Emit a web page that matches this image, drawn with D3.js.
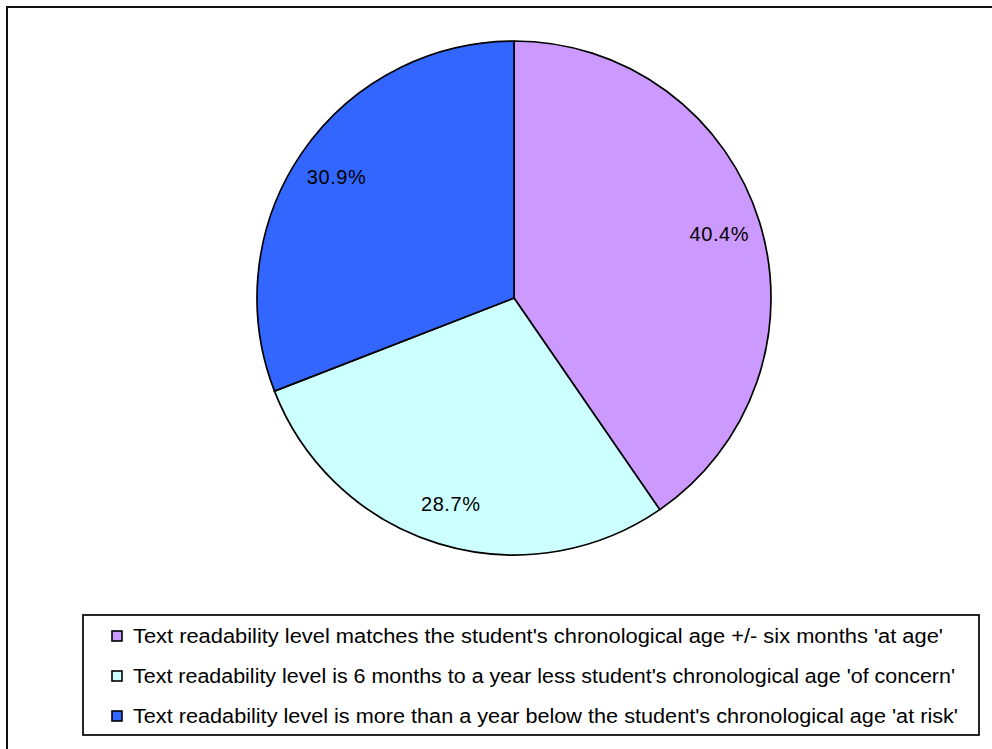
<!DOCTYPE html>
<html>
<head>
<meta charset="utf-8">
<script src="https://cdn.jsdelivr.net/npm/d3@7"></script>
<style>
  html, body { margin: 0; padding: 0; background: #fff; }
  svg { display: block; }
  text { font-family: Arial, "Liberation Sans", sans-serif; fill: #000; }
</style>
</head>
<body>
<svg id="chart" width="992" height="749"></svg>
<script>
// Share of texts by readability level relative to the student's age
const categories = [
  "Text readability level matches the student's chronological age +/- six months 'at age'",
  "Text readability level is 6 months to a year less student's chronological age 'of concern'",
  "Text readability level is more than a year below the student's chronological age 'at risk'"
];
const values = [40.4, 28.7, 30.9];
const colors = ["#CC99FF", "#CCFFFF", "#3366FF"];
const legendWidths = [810, 822, 825];

const svg = d3.select("#chart");
const W = 992, H = 749;

// chart area frame (only top and left edges fall inside the page)
svg.append("path")
  .attr("d", `M7,${H + 5} L7,7 L${W + 5},7`)
  .attr("fill", "none")
  .attr("stroke", "#111")
  .attr("stroke-width", 2);

const cx = 514, cy = 298, R = 257;

const pie = d3.pie().sort(null).value(d => d)
  .startAngle(0).endAngle(2 * Math.PI);
const arcs = pie(values);
const arc = d3.arc().innerRadius(0).outerRadius(R);
const labelArc = d3.arc().innerRadius(215).outerRadius(215);

const g = svg.append("g").attr("transform", `translate(${cx},${cy})`);

g.selectAll("path.slice")
  .data(arcs)
  .join("path")
  .attr("class", "slice")
  .attr("d", arc)
  .attr("fill", (d, i) => colors[i])
  .attr("stroke", "#000")
  .attr("stroke-width", 1.7)
  .attr("stroke-linejoin", "round");

g.selectAll("text.pct")
  .data(arcs)
  .join("text")
  .attr("class", "pct")
  .attr("transform", d => `translate(${labelArc.centroid(d)})`)
  .attr("text-anchor", "middle")
  .attr("dy", "0.36em")
  .attr("font-size", 20)
  .attr("letter-spacing", 0.6)
  .text(d => d.data.toFixed(1) + "%");

// legend
const lg = svg.append("g");
lg.append("rect")
  .attr("x", 83).attr("y", 615)
  .attr("width", 896).attr("height", 120)
  .attr("fill", "#fff")
  .attr("stroke", "#000")
  .attr("stroke-width", 1.7);

const rows = lg.selectAll("g.row")
  .data(categories)
  .join("g")
  .attr("class", "row")
  .attr("transform", (d, i) => `translate(0,${643 + i * 40})`);

rows.append("rect")
  .attr("x", 112).attr("y", -12)
  .attr("width", 10).attr("height", 10)
  .attr("fill", (d, i) => colors[i])
  .attr("stroke", "#000")
  .attr("stroke-width", 1.6);

rows.append("text")
  .attr("x", 133).attr("y", 0)
  .attr("font-size", 20)
  .attr("textLength", (d, i) => legendWidths[i])
  .attr("lengthAdjust", "spacingAndGlyphs")
  .text(d => d);
</script>
</body>
</html>
